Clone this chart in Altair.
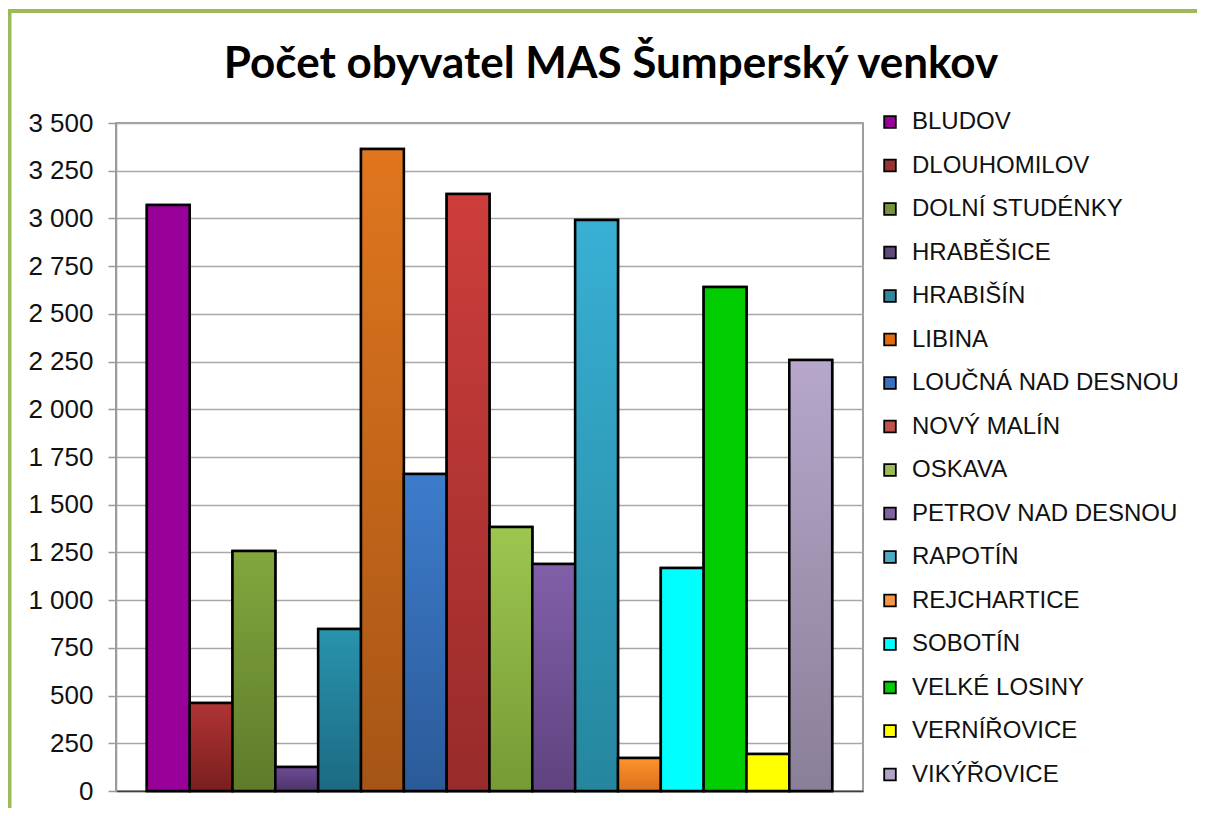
import altair as alt
import pandas as pd

# ---- data ----
names = ["BLUDOV", "DLOUHOMILOV", "DOLNÍ STUDÉNKY", "HRABĚŠICE", "HRABIŠÍN", "LIBINA",
         "LOUČNÁ NAD DESNOU", "NOVÝ MALÍN", "OSKAVA", "PETROV NAD DESNOU", "RAPOTÍN",
         "REJCHARTICE", "SOBOTÍN", "VELKÉ LOSINY", "VERNÍŘOVICE", "VIKÝŘOVICE"]
values = [3070, 461, 1257, 126, 849, 3364, 1661, 3128, 1383, 1189, 2992, 173, 1168, 2641, 194, 2258]

legend_colors = ["#990099", "#993333", "#77933C", "#604A7B", "#31859C", "#E46C0A",
                 "#3A70C0", "#C0504D", "#9BBB59", "#8064A2", "#4BACC6", "#F79646",
                 "#00FFFF", "#00CC00", "#FFFF00", "#B3A2C7"]
top_colors = ["#990099", "#B03434", "#82A63E", "#6C4C96", "#2993AD", "#E0761E",
              "#3D7CCC", "#CD3E3B", "#9DC650", "#815FA9", "#38B0D4", "#FF932C",
              "#00FFFF", "#00CC00", "#FFFF00", "#B6A7CB"]
bottom_colors = ["#990099", "#7A1E1E", "#5E7B2A", "#4D3468", "#1C6A82", "#A65516",
                 "#2B5A98", "#982B2B", "#769A35", "#5F437F", "#25869E", "#D9711D",
                 "#00FFFF", "#00CC00", "#FFFF00", "#8A7F98"]
y_ticks = list(range(0, 3501, 250))
title_text = "Počet obyvatel MAS Šumperský venkov"

df = pd.DataFrame({"obec": names, "obyvatel": values})

x_enc = alt.X("obec:N", sort=names,
              scale=alt.Scale(domain=names, paddingInner=0, paddingOuter=0.72),
              axis=alt.Axis(labels=False, ticks=False, title=None, grid=False,
                            domainColor="#404040", domainWidth=1.5))
y_enc = alt.Y("obyvatel:Q",
              scale=alt.Scale(domain=[0, 3500], nice=False, zero=True),
              axis=alt.Axis(values=y_ticks, title=None,
                            labelExpr="replace(format(datum.value, ','), ',', ' ')",
                            labelFont="Liberation Sans", labelFontSize=26, labelColor="#111111",
                            labelPadding=15, tickSize=8, tickColor="#9a9a9a", tickWidth=1.5,
                            domainColor="#9a9a9a", domainWidth=1.5,
                            grid=True, gridColor="#a8a8a8", gridWidth=1.5))

base = alt.Chart(df).mark_bar(stroke="black", strokeWidth=2.5).encode(
    x=x_enc, y=y_enc,
    color=alt.Color("obec:N", sort=names,
                    scale=alt.Scale(domain=names, range=legend_colors),
                    legend=alt.Legend(title=None, orient="none", legendX=762, legendY=-13,
                                      symbolType="square", symbolSize=135,
                                      symbolStrokeColor="black", symbolStrokeWidth=1.8,
                                      labelFont="Liberation Sans", labelFontSize=24,
                                      labelColor="#111111", labelOffset=10,
                                      rowPadding=19.5, padding=0, labelLimit=400)))

layers = [base]
for n, t, b in zip(names, top_colors, bottom_colors):
    grad = alt.LinearGradient(gradient="linear",
                              stops=[alt.GradientStop(color=t, offset=0),
                                     alt.GradientStop(color=b, offset=1)],
                              x1=0, x2=0, y1=0, y2=1)
    layers.append(
        alt.Chart(df).transform_filter(alt.FieldEqualPredicate(field="obec", equal=n))
        .mark_bar(fill=grad, stroke="black", strokeWidth=2.5)
        .encode(x=x_enc, y=y_enc)
    )

frame_data = alt.Data(values=[{"f": 1}])
top_rule = alt.Chart(frame_data).mark_rule(color="#9BBB59", strokeWidth=4).encode(
    x=alt.value(-110), x2=alt.value(1100), y=alt.value(-112))
left_rule = alt.Chart(frame_data).mark_rule(color="#9BBB59", strokeWidth=4).encode(
    x=alt.value(-106.5), y=alt.value(-114), y2=alt.value(700))
title_mark = alt.Chart(frame_data).mark_text(
    text=title_text, font="Lato", fontSize=44, fontWeight="bold", color="black",
    align="center", baseline="alphabetic").encode(x=alt.value(495), y=alt.value(-45))

chart = alt.layer(*layers, top_rule, left_rule, title_mark).properties(
    width=747, height=668,
    padding={"left": 108, "top": 115, "right": 334, "bottom": 17},
    autosize=alt.AutoSizeParams(type="none"),
).configure_view(stroke="#7f7f7f", strokeWidth=1.5)

chart.save("out.html", embed_options={"renderer": "svg", "actions": False})
